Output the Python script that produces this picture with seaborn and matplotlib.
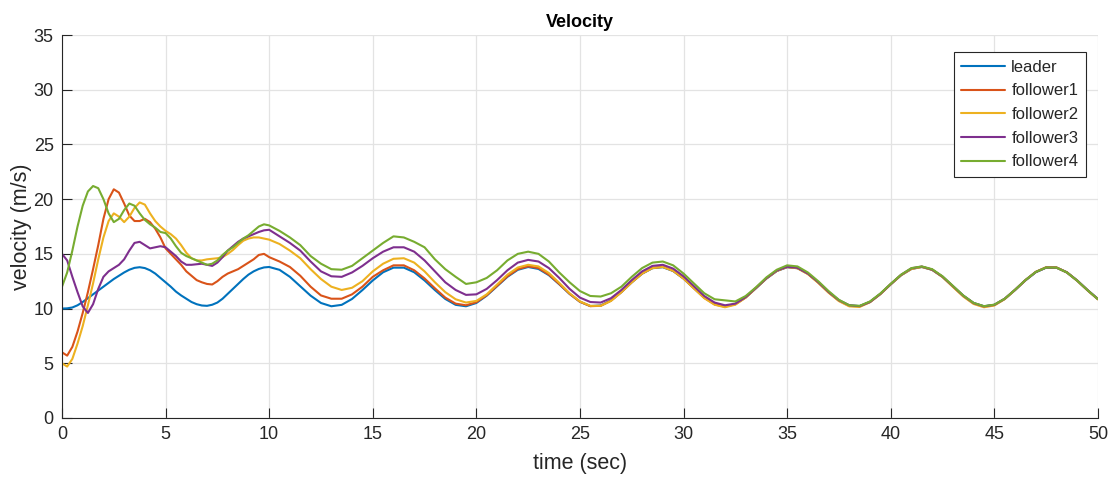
import numpy as np
import pandas as pd
import matplotlib
matplotlib.use("Agg")
import matplotlib.pyplot as plt
import seaborn as sns

# time grid: finer over the first 10 s where the transients are
t = np.concatenate([np.arange(0, 10, 0.25), np.arange(10, 50.01, 0.5)])

leader = [10.0, 10.02, 10.1, 10.3, 10.6, 10.95, 11.3, 11.65, 12.0, 12.35,
          12.7, 13.0, 13.3, 13.55, 13.72, 13.78, 13.7, 13.5, 13.2, 12.8,
          12.4, 12.0, 11.55, 11.2, 10.9, 10.6, 10.4, 10.28, 10.25, 10.35,
          10.55, 10.9, 11.35, 11.8, 12.25, 12.7, 13.1, 13.4, 13.62, 13.76,
          13.80, 13.54, 12.90, 12.04, 11.18, 10.51, 10.21, 10.34, 10.88, 11.69,
          12.57, 13.32, 13.74, 13.74, 13.32, 12.57, 11.69, 10.88, 10.34, 10.21,
          10.51, 11.18, 12.04, 12.90, 13.54, 13.80, 13.62, 13.05, 12.22, 11.34,
          10.62, 10.23, 10.28, 10.75, 11.51, 12.40, 13.19, 13.69, 13.78, 13.43,
          12.74, 11.87, 11.02, 10.42, 10.20, 10.42, 11.02, 11.87, 12.74, 13.43,
          13.78, 13.69, 13.19, 12.40, 11.51, 10.75, 10.28, 10.23, 10.62, 11.34,
          12.22, 13.05, 13.62, 13.80, 13.54, 12.90, 12.04, 11.18, 10.51, 10.21,
          10.34, 10.88, 11.69, 12.57, 13.32, 13.74, 13.74, 13.32, 12.57, 11.69,
          10.88]

follower1 = [6.0, 5.7, 6.5, 7.9, 9.6, 11.5, 13.6, 15.8, 18.2, 20.0,
             20.9, 20.6, 19.6, 18.5, 18.0, 18.0, 18.2, 17.9, 17.3, 16.5,
             15.5, 15.0, 14.5, 14.0, 13.4, 13.0, 12.6, 12.4, 12.25, 12.2,
             12.5, 12.9, 13.2, 13.4, 13.6, 13.9, 14.2, 14.5, 14.9, 15.0,
             14.7, 14.3, 13.8, 13.0, 12.0, 11.2, 10.9, 10.9, 11.3, 12.0,
             12.9, 13.5, 13.95, 13.95, 13.5, 12.75, 11.85, 11.0, 10.45, 10.3,
             10.58, 11.22, 12.08, 12.95, 13.6, 13.86, 13.7, 13.1, 12.25, 11.35,
             10.62, 10.22, 10.25, 10.72, 11.5, 12.4, 13.2, 13.72, 13.82, 13.45,
             12.75, 11.85, 10.98, 10.38, 10.17, 10.40, 11.02, 11.88, 12.76, 13.45,
             13.80, 13.70, 13.18, 12.38, 11.48, 10.72, 10.25, 10.20, 10.60, 11.33,
             12.22, 13.06, 13.64, 13.82, 13.55, 12.90, 12.02, 11.15, 10.47, 10.17,
             10.32, 10.88, 11.70, 12.58, 13.34, 13.76, 13.75, 13.32, 12.56, 11.68,
             10.86]

follower2 = [5.0, 4.7, 5.4, 6.8, 8.4, 10.3, 12.3, 14.5, 16.5, 18.0,
             18.7, 18.4, 17.9, 18.4, 19.2, 19.7, 19.5, 18.7, 18.0, 17.5,
             17.1, 16.8, 16.4, 15.8, 15.1, 14.6, 14.4, 14.4, 14.5, 14.55,
             14.6, 14.7, 15.0, 15.35, 15.8, 16.2, 16.4, 16.5, 16.5, 16.4,
             16.3, 15.9, 15.3, 14.6, 13.6, 12.7, 12.0, 11.7, 11.9, 12.5,
             13.4, 14.1, 14.55, 14.6, 14.2, 13.4, 12.4, 11.5, 10.85, 10.55,
             10.7, 11.3, 12.2, 13.1, 13.75, 14.0, 13.85, 13.25, 12.35, 11.4,
             10.65, 10.25, 10.25, 10.7, 11.5, 12.4, 13.2, 13.7, 13.8, 13.45,
             12.75, 11.85, 10.95, 10.35, 10.12, 10.35, 11.0, 11.88, 12.76, 13.45,
             13.80, 13.68, 13.15, 12.35, 11.45, 10.68, 10.2, 10.15, 10.58, 11.32,
             12.22, 13.05, 13.62, 13.80, 13.55, 12.88, 11.98, 11.1, 10.42, 10.12,
             10.28, 10.86, 11.7, 12.6, 13.36, 13.78, 13.76, 13.3, 12.54, 11.66,
             10.84]

follower3 = [15.0, 14.4, 12.9, 11.5, 10.2, 9.6, 10.4, 11.8, 12.9, 13.4,
             13.7, 14.0, 14.5, 15.3, 16.0, 16.1, 15.8, 15.5, 15.6, 15.7,
             15.6, 15.2, 14.8, 14.3, 14.0, 14.0, 14.05, 14.1, 14.0, 13.9,
             14.2, 14.7, 15.3, 15.7, 16.1, 16.4, 16.6, 16.8, 17.0, 17.15,
             17.2, 16.6, 16.0, 15.3, 14.3, 13.4, 12.95, 12.9, 13.3, 13.9,
             14.6, 15.2, 15.6, 15.6, 15.2, 14.4, 13.4, 12.4, 11.7, 11.25,
             11.3, 11.8, 12.6, 13.5, 14.2, 14.45, 14.3, 13.7, 12.8, 11.8,
             11.0, 10.6, 10.55, 10.95, 11.7, 12.6, 13.4, 13.9, 14.0, 13.65,
             12.95, 12.05, 11.15, 10.55, 10.3, 10.45, 11.05, 11.9, 12.78, 13.48,
             13.82, 13.72, 13.2, 12.42, 11.52, 10.76, 10.3, 10.22, 10.6, 11.34,
             12.24, 13.08, 13.68, 13.84, 13.56, 12.92, 12.05, 11.18, 10.5, 10.2,
             10.34, 10.9, 11.72, 12.6, 13.34, 13.75, 13.74, 13.3, 12.55, 11.68,
             10.86]

follower4 = [12.0, 13.3, 15.3, 17.5, 19.4, 20.7, 21.2, 21.0, 20.0, 18.7,
             17.9, 18.2, 19.0, 19.6, 19.4, 18.7, 18.1, 17.7, 17.4, 17.0,
             16.9, 16.4, 15.7, 15.1, 14.8, 14.6, 14.4, 14.2, 14.0, 14.1,
             14.4, 14.9, 15.3, 15.6, 16.0, 16.4, 16.7, 17.1, 17.5, 17.7,
             17.6, 17.1, 16.5, 15.8, 14.8, 14.1, 13.6, 13.55, 13.9, 14.6,
             15.3, 16.0, 16.6, 16.5, 16.1, 15.6, 14.5, 13.6, 12.9, 12.25,
             12.4, 12.8, 13.5, 14.4, 15.0, 15.2, 15.0, 14.3, 13.3, 12.4,
             11.6, 11.15, 11.1, 11.4, 12.0, 12.9, 13.7, 14.2, 14.3, 13.95,
             13.2, 12.3, 11.4, 10.85, 10.75, 10.65, 11.15, 11.95, 12.85, 13.55,
             13.95, 13.85, 13.3, 12.5, 11.6, 10.8, 10.3, 10.25, 10.65, 11.38,
             12.26, 13.1, 13.7, 13.85, 13.6, 12.95, 12.08, 11.2, 10.52, 10.22,
             10.36, 10.9, 11.72, 12.6, 13.34, 13.75, 13.74, 13.3, 12.55, 11.68,
             10.86]

names = ['leader', 'follower1', 'follower2', 'follower3', 'follower4']
colors = ['#0072BD', '#D95319', '#EDB120', '#7E2F8E', '#77AC30']

df = pd.concat([pd.DataFrame({'time': t, 'velocity': v, 'vehicle': n})
                for n, v in zip(names, [leader, follower1, follower2, follower3, follower4])])

sns.set_style("whitegrid")
plt.rcParams['font.family'] = ['Liberation Sans', 'DejaVu Sans']

fig = plt.figure(figsize=(11.09, 4.83), dpi=100)
ax = fig.add_axes([0.0559, 0.1346, 0.9341, 0.7929])

sns.lineplot(data=df, x='time', y='velocity', hue='vehicle', palette=colors,
             hue_order=names, linewidth=1.5, ax=ax)

ax.set_xlim(0, 50)
ax.set_ylim(0, 35)
ax.set_xticks(np.arange(0, 51, 5))
ax.set_yticks(np.arange(0, 36, 5))
ax.grid(True, color='#e3e3e3', linewidth=0.9)
ax.tick_params(axis='both', direction='in', length=7, width=0.8, colors='#262626',
               labelsize=13, pad=6, left=True, bottom=True)
for s in ['top', 'right']:
    ax.spines[s].set_visible(False)
for s in ['left', 'bottom']:
    ax.spines[s].set_color('#262626')
    ax.spines[s].set_linewidth(0.8)

ax.set_xlabel('time (sec)', fontsize=15.5, color='#262626', labelpad=7)
ax.set_ylabel('velocity (m/s)', fontsize=15.5, color='#262626')
ax.yaxis.set_label_coords(-0.029, 0.5)
ax.set_title('Velocity', fontsize=13, fontweight='bold', color='black', pad=6)

leg = ax.legend(loc='upper right', bbox_to_anchor=(0.9885, 0.955), fontsize=12,
                frameon=True, fancybox=False, handlelength=2.6, handletextpad=0.4,
                borderpad=0.45, labelspacing=0.52, borderaxespad=0)
leg.get_frame().set_edgecolor('#262626')
leg.get_frame().set_linewidth(0.8)
leg.get_frame().set_alpha(1)

fig.savefig('out.png', dpi=100)
